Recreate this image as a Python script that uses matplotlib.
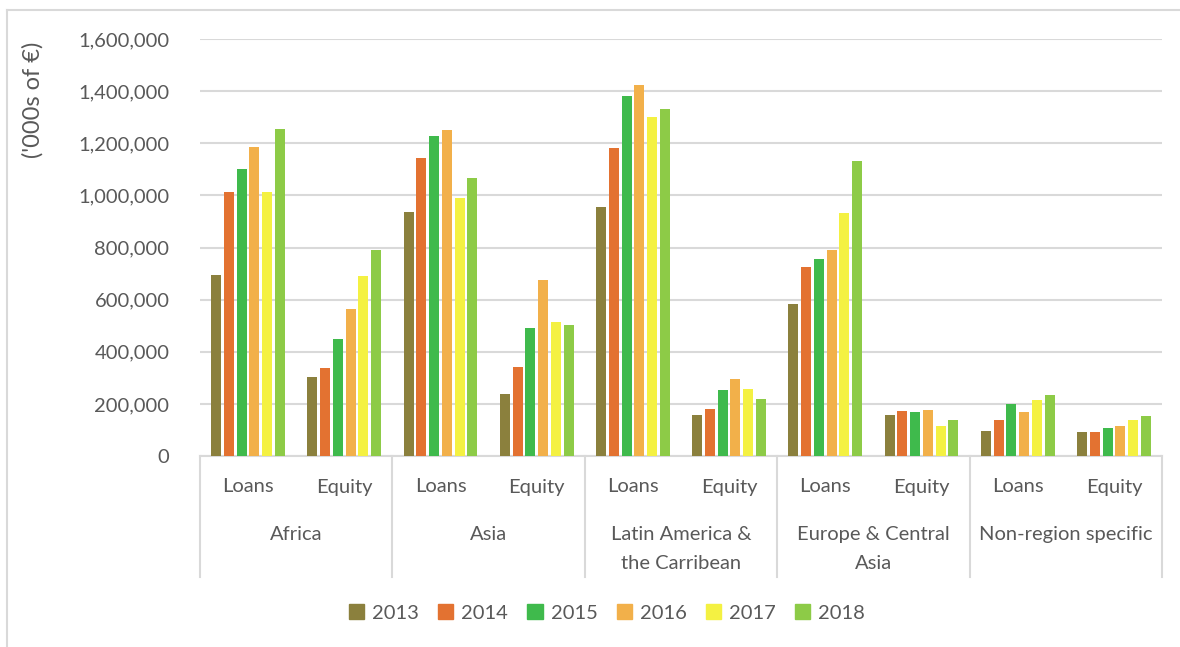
import numpy as np
import matplotlib.pyplot as plt
from matplotlib.patches import Patch
from matplotlib.lines import Line2D
from matplotlib.ticker import FuncFormatter

plt.rcParams['font.family'] = ['Lato', 'DejaVu Sans']

regions = ['Africa', 'Asia', 'Latin America &\nthe Carribean', 'Europe & Central\nAsia', 'Non-region specific']
kinds = ['Loans', 'Equity']
years = ['2013', '2014', '2015', '2016', '2017', '2018']
colors = ['#8B803D', '#E37231', '#3FBA4C', '#F2B04A', '#F4F142', '#8DCB47']

# values per year, order: Africa L/E, Asia L/E, LatAm L/E, Europe L/E, Non-region L/E
v2013 = [693000, 303000, 935000, 237000, 957000, 157000, 583000, 157000, 97000, 91000]
v2014 = [1012000, 338000, 1143000, 340000, 1181000, 182000, 725000, 174000, 137000, 93000]
v2015 = [1102000, 448000, 1228000, 490000, 1381000, 253000, 755000, 169000, 200000, 107000]
v2016 = [1186000, 564000, 1251000, 675000, 1424000, 295000, 790000, 178000, 170000, 115000]
v2017 = [1013000, 692000, 991000, 514000, 1301000, 256000, 931000, 115000, 215000, 137000]
v2018 = [1254000, 789000, 1066000, 503000, 1330000, 219000, 1132000, 137000, 234000, 152000]
series = [v2013, v2014, v2015, v2016, v2017, v2018]

txt = '#595959'
grid = '#D9D9D9'

fig = plt.figure(figsize=(11.8, 6.47), dpi=100)
ax = fig.add_axes([200/1180, 1 - 456/647, 962/1180, 417/647])

x = np.arange(len(regions) * len(kinds))
step = 0.133
width = 0.104
for i, vals in enumerate(series):
    ax.bar(x + (i - 2.5) * step, vals, width, color=colors[i], zorder=3)

ax.set_xlim(-0.5, len(x) - 0.5)
ax.set_ylim(0, 1600000)
ax.set_yticks(np.arange(0, 1600001, 200000))
ax.yaxis.set_major_formatter(FuncFormatter(lambda v, p: f'{int(v):,}'))
ax.tick_params(axis='y', length=0, labelsize=14.5, labelcolor=txt, pad=22)
ax.set_xticks([])
ax.grid(axis='y', color=grid, linewidth=1.5, zorder=0)
for s in ['top', 'right', 'left']:
    ax.spines[s].set_visible(False)
ax.spines['bottom'].set_color(grid)
ax.spines['bottom'].set_linewidth(1.5)

tr = ax.get_xaxis_transform()
sep_bottom = -(577 - 456) / 417
for b in np.arange(-0.5, len(x), 2):
    ax.add_line(Line2D([b, b], [0, sep_bottom], transform=tr, color=grid,
                       linewidth=1.5, clip_on=False))

for j in x:
    ax.text(j, -(487 - 456) / 417, kinds[j % 2], transform=tr, ha='center', va='center',
            fontsize=14.5, color=txt)
for r, name in enumerate(regions):
    # first line centred at y=533, second at y=562
    ax.text(2 * r + 0.5, -(526 - 456) / 417, name, transform=tr, ha='center', va='top',
            fontsize=14.5, color=txt, linespacing=1.85)

ax.set_ylabel("('000s of €)", fontsize=17, color=txt)
ax.yaxis.set_label_coords(-(200 - 44) / 962, (456 - 100) / 417)

handles = [Patch(color=c) for c in colors]
fig.legend(handles, years, loc='center', bbox_to_anchor=(607/1180, 1 - 613/647), ncol=6,
           frameon=False, fontsize=14.5, labelcolor=txt, handlelength=0.75, handleheight=0.75,
           handletextpad=0.4, columnspacing=0.95)

# outer chart border (top and left visible)
fig.add_artist(Line2D([7/1180, 1], [1 - 9.5/647, 1 - 9.5/647], transform=fig.transFigure,
                      color=grid, linewidth=1.5))
fig.add_artist(Line2D([7/1180, 7/1180], [0, 1 - 9.5/647], transform=fig.transFigure,
                      color=grid, linewidth=1.5))

fig.savefig('out.png', dpi=100)
